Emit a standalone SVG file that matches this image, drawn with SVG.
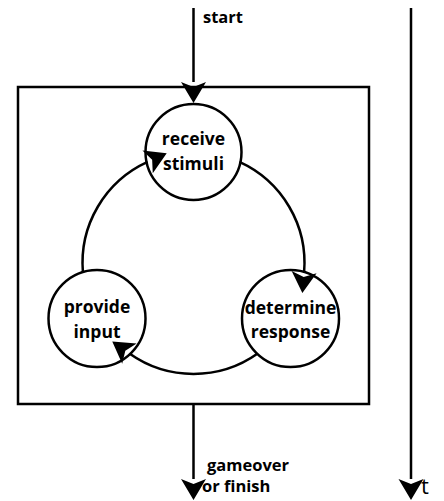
<svg xmlns="http://www.w3.org/2000/svg" width="444" height="501" viewBox="0 0 444 501">
<style>
.n{fill:#fff;stroke:#000;stroke-width:2.5}
.t{font-family:"Open Sans","Liberation Sans",sans-serif;font-weight:bold;font-size:17.5px;fill:#000;text-anchor:middle}
.l{font-family:"Open Sans","Liberation Sans",sans-serif;font-weight:bold;font-size:16.5px;fill:#000}
.c{fill:none;stroke:#000;stroke-width:2.5}
</style>
<defs>
<marker id="ah" markerUnits="userSpaceOnUse" viewBox="0 -13 22 26" markerWidth="22" markerHeight="26" refX="0" refY="0" orient="auto" overflow="visible">
<path d="M0,-12.5 L21,0 L0,12.5 L5,0 Z" fill="#000"/>
</marker>
</defs>
<rect id="loop-box" x="18" y="87" width="351" height="317" fill="#fff" stroke="#000" stroke-width="2.5"/>
<g id="receive">
<circle class="n" cx="193.5" cy="152" r="48"/>
<text class="t" x="193.5" y="145">receive</text>
<text class="t" x="193.5" y="170">stimuli</text>
</g>
<g id="determine">
<circle class="n" cx="290.5" cy="318.5" r="48.5"/>
<text class="t" x="290.5" y="314">determine</text>
<text class="t" x="290.5" y="338">response</text>
</g>
<g id="provide">
<circle class="n" cx="97" cy="318.5" r="48.5"/>
<text class="t" x="97" y="313">provide</text>
<text class="t" x="97" y="338">input</text>
</g>
<g id="connectors">
<path class="c" d="M193.5,8 L193.5,82" marker-end="url(#ah)"/>
<path class="c" d="M239.4,161.9 A111,111 0 0 1 304.1,272.1" marker-end="url(#ah)"/>
<path class="c" d="M257.7,353.6 A111,111 0 0 1 129.4,353.6" marker-end="url(#ah)"/>
<path class="c" d="M82.9,272.1 A111,111 0 0 1 147.6,161.9" marker-end="url(#ah)"/>
<path class="c" d="M193.5,404 L193.5,479" marker-end="url(#ah)"/>
<path class="c" d="M411,8 L411,479" marker-end="url(#ah)"/>
</g>
<g id="labels">
<text class="l" x="203" y="23">start</text>
<text class="l" x="207" y="471">gameover</text>
<text class="l" x="202" y="492">or finish</text>
<text x="421" y="494" font-family="Open Sans, Liberation Sans, sans-serif" font-size="22" fill="#000">t</text>
</g>
</svg>
